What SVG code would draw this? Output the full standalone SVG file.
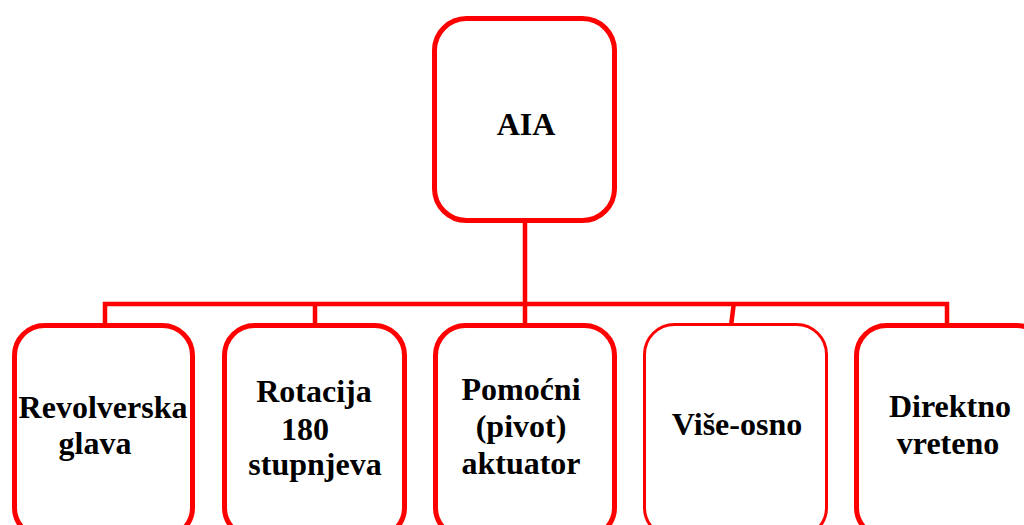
<svg xmlns="http://www.w3.org/2000/svg" width="1024" height="525" viewBox="0 0 1024 525">
<style>
.box{fill:#fff;stroke:#ff0000;stroke-width:5}
.thin{stroke-width:3}
.con{fill:none;stroke:#ff0000;stroke-width:4.5}
text{font-family:"Liberation Serif","Times New Roman",serif;font-weight:bold;font-size:32px;fill:#000;text-anchor:middle}
</style>
<rect width="1024" height="525" fill="#fff"/>
<g id="connectors">
<path class="con" d="M525 221V304M103 304H949M105 302V326M315 302V326M525 302V326M734 302L731 326M947 302V326"/>
</g>
<g id="aia">
<rect class="box" x="434.5" y="18.5" width="180" height="202" rx="32"/>
<text x="526" y="135">AIA</text>
</g>
<g id="revolverska">
<rect class="box" x="14.5" y="325.5" width="178" height="212" rx="30"/>
<text x="103" y="418">Revolverska</text>
<text x="95" y="454">glava</text>
</g>
<g id="rotacija">
<rect class="box" x="224.5" y="325.5" width="180" height="212" rx="30"/>
<text x="314" y="402">Rotacija</text>
<text x="305" y="440">180</text>
<text x="315" y="475">stupnjeva</text>
</g>
<g id="pomocni">
<rect class="box" x="435.5" y="325.5" width="179" height="212" rx="30"/>
<text x="521" y="400">Pomoćni</text>
<text x="521" y="437">(pivot)</text>
<text x="521" y="474">aktuator</text>
</g>
<g id="viseosno">
<rect class="box thin" x="644.5" y="324.5" width="182" height="213" rx="30"/>
<text x="737" y="435">Više-osno</text>
</g>
<g id="direktno">
<rect class="box" x="856.5" y="325.5" width="190" height="212" rx="30"/>
<text x="950" y="417">Direktno</text>
<text x="948" y="454">vreteno</text>
</g>
</svg>
